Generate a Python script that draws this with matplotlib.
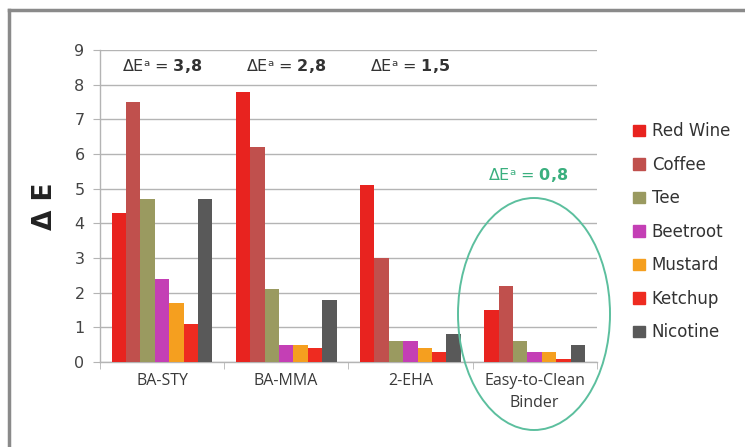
import matplotlib
matplotlib.use("Agg")
import matplotlib.pyplot as plt
import numpy as np
from matplotlib.patches import Ellipse
from matplotlib.lines import Line2D

categories = ["BA-STY", "BA-MMA", "2-EHA", "Easy-to-Clean\nBinder"]
series = ["Red Wine", "Coffee", "Tee", "Beetroot", "Mustard", "Ketchup", "Nicotine"]
red_wine = [4.3, 7.8, 5.1, 1.5]
coffee = [7.5, 6.2, 3.0, 2.2]
tee = [4.7, 2.1, 0.6, 0.6]
beetroot = [2.4, 0.5, 0.6, 0.3]
mustard = [1.7, 0.5, 0.4, 0.3]
ketchup = [1.1, 0.4, 0.3, 0.1]
nicotine = [4.7, 1.8, 0.8, 0.5]
mean_de = ["3,8", "2,8", "1,5", "0,8"]

colors = ["#e8231f", "#c0504d", "#9a9a60", "#c43fb5", "#f59f1f", "#ee2b20", "#595959"]
values = [red_wine, coffee, tee, beetroot, mustard, ketchup, nicotine]

plt.rcParams['font.family'] = ['DejaVu Sans']
plt.rcParams['mathtext.fontset'] = 'dejavusans'

fig = plt.figure(figsize=(7.45, 4.47), dpi=100)
ax = fig.add_axes([0.134, 0.190, 0.667, 0.698])

x = np.arange(len(categories))
n = len(series)
bw = 0.116
for i, (name, vals, c) in enumerate(zip(series, values, colors)):
    ax.bar(x + (i - (n - 1) / 2) * bw, vals, width=bw, color=c, label=name, zorder=3)

ax.set_xlim(-0.5, len(categories) - 0.5)
ax.set_ylim(0, 9)
ax.set_yticks(range(0, 10))
ax.yaxis.grid(True, color="#b4b4b4", linewidth=1.0, zorder=0)
ax.set_axisbelow(True)
for s in ["top", "right"]:
    ax.spines[s].set_visible(False)
for s in ["left", "bottom"]:
    ax.spines[s].set_color("#b4b4b4")
    ax.spines[s].set_linewidth(1.0)

ax.set_xticks(x)
ax.set_xticklabels(categories, fontsize=11.5, color="#3a3a3a", family=["Open Sans", "DejaVu Sans"], linespacing=1.5)
ax.tick_params(axis="x", length=0, pad=8)
ax.set_xticks(np.arange(-0.5, len(categories)), minor=True)
ax.tick_params(axis="x", which="minor", length=5, color="#b4b4b4")
ax.tick_params(axis="y", length=5, color="#b4b4b4", labelsize=11.5, labelcolor="#444444", pad=6)

ax.set_ylabel("Δ E", fontsize=19, fontweight="bold", color="#222222", labelpad=12)

for i, m in enumerate(mean_de[:3]):
    ax.text(x[i], 8.55, "ΔEᵃ = $\\mathbf{" + m.replace(",", "{,}") + "}$", ha="center", va="center",
            fontsize=11.5, color="#333333")
ax.text(x[3] - 0.05, 5.4, "ΔEᵃ = $\\mathbf{" + mean_de[3].replace(",", "{,}") + "}$", ha="center", va="center",
        fontsize=11.5, color="#3aaf7e")

ell = Ellipse((534 / 745, 1 - 314 / 447), 152 / 745, 232 / 447, transform=fig.transFigure,
              fill=False, edgecolor="#5cbf9e", linewidth=1.4, zorder=10)
fig.patches.append(ell)

handles = [plt.Rectangle((0, 0), 1, 1, color=c) for c in colors]
leg = fig.legend(handles, series, loc="upper left", bbox_to_anchor=(0.83, 0.76),
                 frameon=False, fontsize=12, handlelength=0.7, handleheight=0.7,
                 handletextpad=0.4, labelspacing=0.93, labelcolor="#333333")

# outer frame lines (left and top)
fig.add_artist(Line2D([9 / 745, 9 / 745], [0, 1 - 10 / 447], transform=fig.transFigure, color="#8a8a8a", linewidth=2.5))
fig.add_artist(Line2D([9 / 745, 1], [1 - 10 / 447, 1 - 10 / 447], transform=fig.transFigure, color="#8a8a8a", linewidth=2.5))

fig.savefig("out.png", dpi=100)
